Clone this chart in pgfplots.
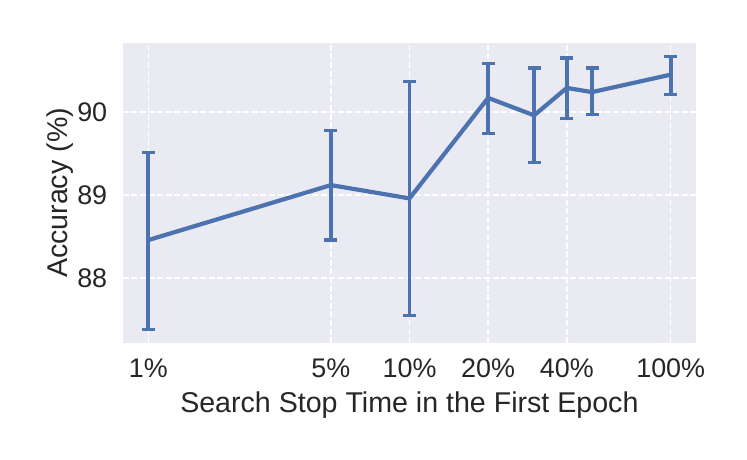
\documentclass[border=0pt]{standalone}
\usepackage{pgfplots}
\usepackage{pgfplotstable}
\pgfplotsset{compat=1.18}
\usepackage{fontspec}
\setmainfont{Liberation Sans}
\definecolor{sbblue}{HTML}{4C72B0}
\definecolor{sbbg}{HTML}{EAEAF2}
\definecolor{txt}{HTML}{262626}

% stop time (%), mean accuracy, error up, error down
\pgfplotstableread{
x    y       ep    em
1    88.458  1.05  1.08
5    89.12   0.66  0.66
10   88.96   1.41  1.41
20   90.17   0.41  0.43
30   89.96   0.57  0.57
40   90.29   0.36  0.37
50   90.24   0.29  0.27
100  90.45   0.22  0.24
}\acctable

\begin{document}
\begin{tikzpicture}[x=1bp,y=1bp]
\path[use as bounding box] (0,0) rectangle (747,460);
\begin{axis}[at={(122.7bp,116.7bp)}, anchor=south west, scale only axis,
  width=573.3bp, height=300.6bp,
  xmode=log, xmin=0.798, xmax=125, ymin=87.215, ymax=90.835,
  xtick={1,5,10,20,40,100}, xticklabels={1\%,5\%,10\%,20\%,40\%,100\%},
  ytick={88,89,90}, minor xtick={}, minor tick num=0,
  axis background/.style={fill=sbbg}, axis line style={draw=none},
  major tick length=0pt, minor tick length=0pt,
  grid=major, grid style={white, dash pattern=on 6bp off 2.6bp, line width=1.5bp},
  tick label style={font=\fontsize{27}{30}\selectfont, text=txt},
  xticklabel style={yshift=-12bp},
  yticklabel style={xshift=-12bp},
  label style={font=\fontsize{28.7}{32}\selectfont, text=txt},
  xlabel={Search Stop Time in the First Epoch}, ylabel={Accuracy (\%)},
  xlabel style={at={(axis description cs:0.5,-0.205)}, anchor=center},
  ylabel style={at={(axis description cs:-0.11,0.5)}, anchor=center},
  /pgf/number format/assume math mode=true,
]
\addplot[sbblue, line width=4.2bp, no markers,
  error bars/.cd, y dir=both, y explicit,
  error bar style={line width=3.8bp, sbblue},
  error mark options={rotate=90, mark size=6.5bp, line width=3.2bp, sbblue}]
  table[x=x, y=y, y error plus=ep, y error minus=em] {\acctable};
\end{axis}
\end{tikzpicture}
\end{document}
